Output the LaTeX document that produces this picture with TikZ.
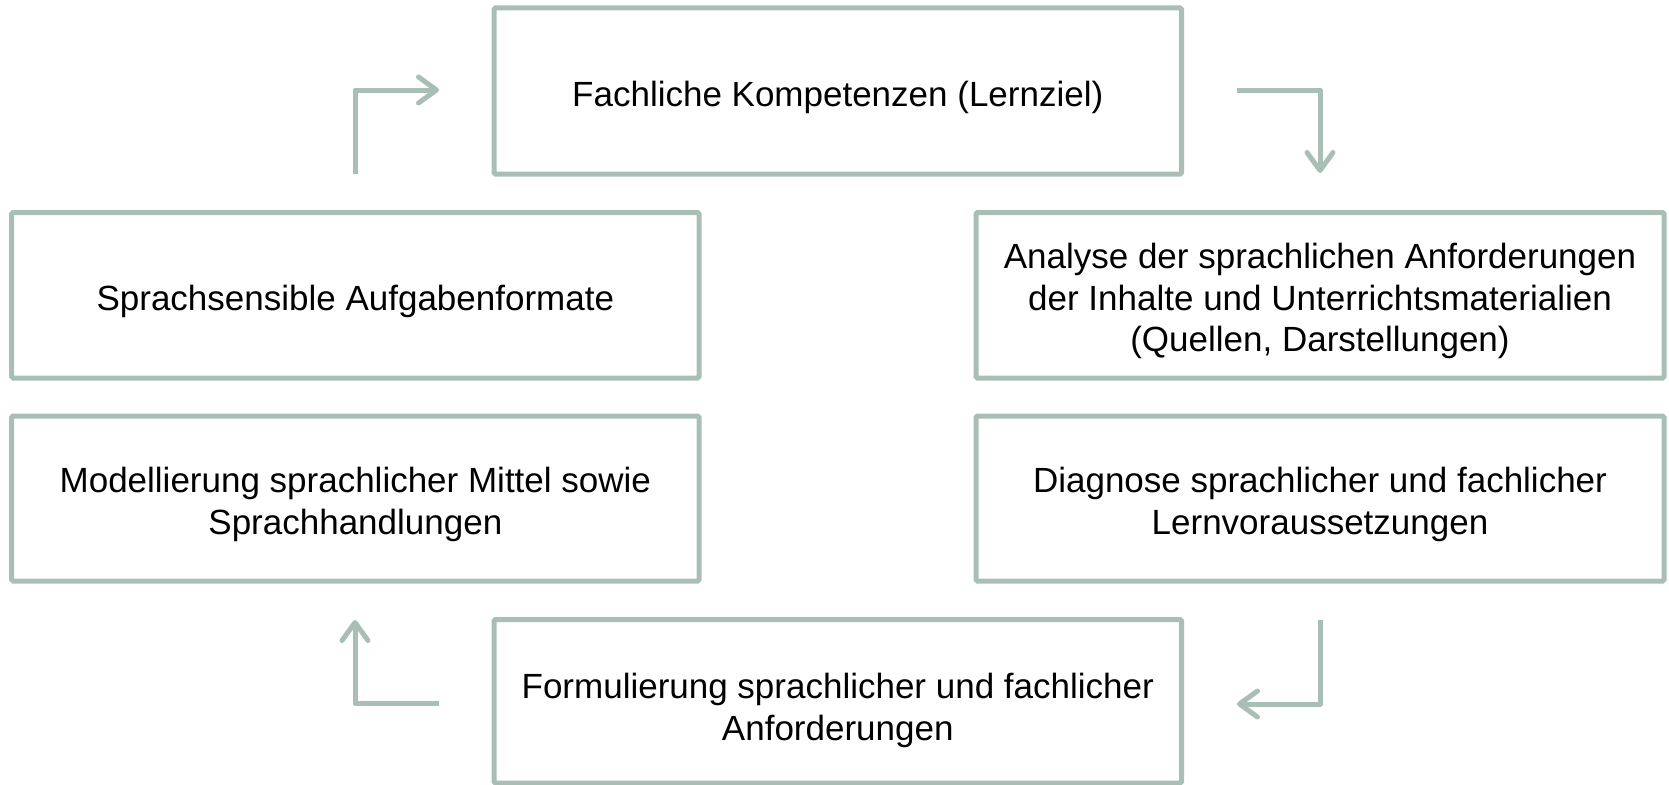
\documentclass[tikz,border=0pt]{standalone}
\usepackage{fontspec}
\setmainfont{Liberation Sans}
\usetikzlibrary{arrows.meta}
\definecolor{sage}{RGB}{169,191,181}
\begin{document}
\begin{tikzpicture}[x=1pt,y=-1pt,
  box/.style={draw=sage, line width=5pt, rounded corners=1.5pt, inner sep=0pt, outer sep=0pt},
  txt/.style={align=center, text=black, inner sep=0pt, font=\fontsize{35}{41.5}\selectfont},
  flow/.style={draw=sage, line width=5pt, line join=round,
    -{Straight Barb[length=18pt,width=26pt,round]}}]
\useasboundingbox (0,0) rectangle (1669,784);

\node[box, minimum width=687.5pt, minimum height=166pt] (fach) at (837.75,91) {};
\node[box, minimum width=687.3pt, minimum height=165.5pt] (aufg) at (355.35,295.25) {};
\node[box, minimum width=687.3pt, minimum height=165pt] (modell) at (355.35,498.5) {};
\node[box, minimum width=688pt, minimum height=165.5pt] (analyse) at (1320,295.25) {};
\node[box, minimum width=688pt, minimum height=165pt] (diag) at (1320,498.5) {};
\node[box, minimum width=687.5pt, minimum height=163.5pt] (form) at (837.75,701.25) {};

\node[txt] (fach-t) at ([yshift=-6pt]fach.center) {Fachliche Kompetenzen (Lernziel)};
\node[txt] (aufg-t) at ([yshift=-6pt]aufg.center) {Sprachsensible Aufgabenformate};
\node[txt] (modell-t) at ([yshift=-6pt]modell.center) {Modellierung sprachlicher Mittel sowie\\Sprachhandlungen};
\node[txt] (analyse-t) at ([yshift=-6pt]analyse.center) {Analyse der sprachlichen Anforderungen\\der Inhalte und Unterrichtsmaterialien\\(Quellen, Darstellungen)};
\node[txt] (diag-t) at ([yshift=-6pt]diag.center) {Diagnose sprachlicher und fachlicher\\Lernvoraussetzungen};
\node[txt] (form-t) at ([yshift=-9pt]form.center) {Formulierung sprachlicher und fachlicher\\Anforderungen};

\coordinate (a1s) at (355,174);
\coordinate (a1e) at (439,90);
\coordinate (a2s) at (1236.7,90);
\coordinate (a2e) at (1320,173);
\coordinate (a3s) at (1320,620);
\coordinate (a3e) at (1237,704);
\coordinate (a4s) at (439,703.5);
\coordinate (a4e) at (355,620);

\draw[flow] (a1s) |- (a1e);
\draw[flow] (a2s) -| (a2e);
\draw[flow] (a3s) |- (a3e);
\draw[flow] (a4s) -| (a4e);
\end{tikzpicture}
\end{document}
